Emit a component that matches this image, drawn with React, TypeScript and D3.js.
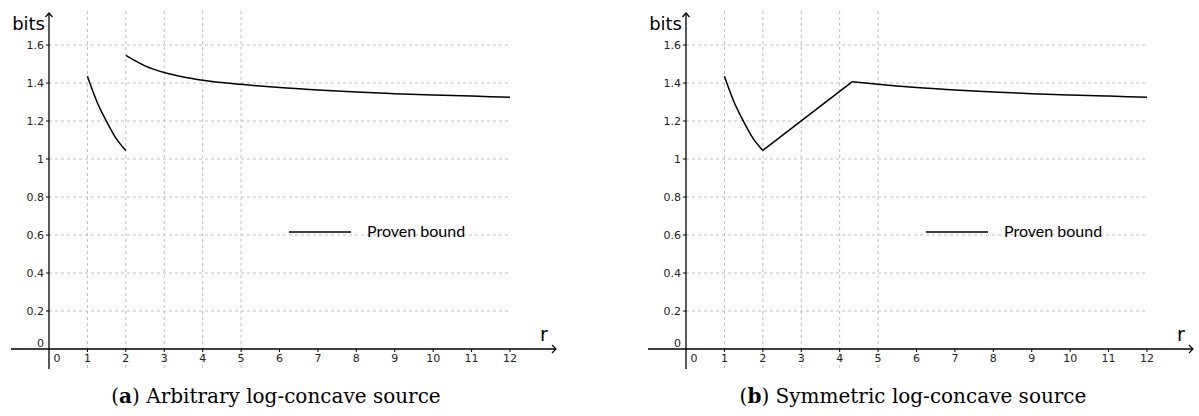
import * as d3 from "d3";

// shared first piece of the bound, r in [1, 2]
const seg1R = [1, 1.25, 1.5, 1.75, 2];
const seg1Bits = [1.435, 1.3, 1.197, 1.107, 1.045];

// (a) arbitrary source: second piece, r in [2, 12]
const tailR = [2, 2.5, 3, 3.5, 4, 5, 6, 7, 8, 9, 10, 11, 12];
const tailBits = [1.545, 1.49, 1.455, 1.432, 1.415, 1.393, 1.376, 1.363, 1.352, 1.344, 1.337, 1.331, 1.325];

// (b) symmetric source: straight ramp, then tail
const rampR = [2, 4.33];
const rampBits = [1.045, 1.407];
const symTailR = [4.33, 5, 6, 7, 8, 9, 10, 11, 12];
const symTailBits = [1.407, 1.393, 1.376, 1.363, 1.352, 1.344, 1.337, 1.331, 1.325];

const xTicks = [0, 1, 2, 3, 4, 5, 6, 7, 8, 9, 10, 11, 12];
const yTicks = [0.2, 0.4, 0.6, 0.8, 1, 1.2, 1.4, 1.6];
const xGrid = [1, 2, 3, 4, 5];

const legendLabel = "Proven bound";
const captions = [
  { tag: "a", text: " Arbitrary log-concave source" },
  { tag: "b", text: " Symmetric log-concave source" },
];

type Seg = { r: number[]; v: number[]; curved: boolean };

const panels: Seg[][] = [
  [
    { r: seg1R, v: seg1Bits, curved: true },
    { r: tailR, v: tailBits, curved: true },
  ],
  [
    { r: seg1R, v: seg1Bits, curved: true },
    { r: rampR, v: rampBits, curved: false },
    { r: symTailR, v: symTailBits, curved: true },
  ],
];

const tickFont = "DejaVu Sans, sans-serif";

function Panel({ ox, segs, caption }: { ox: number; segs: Seg[]; caption: { tag: string; text: string } }) {
  const x = d3.scaleLinear().domain([0, 12]).range([ox, ox + 461]);
  const y = d3.scaleLinear().domain([0, 1.6]).range([349, 45]);
  const x0 = x(0);
  const y0 = y(0);
  const gridTop = 11;
  const axisBottom = 369;

  const line = (curved: boolean) =>
    d3
      .line<[number, number]>()
      .x((d) => x(d[0]))
      .y((d) => y(d[1]))
      .curve(curved ? d3.curveMonotoneX : d3.curveLinear);

  return (
    <g>
      {/* grid */}
      {yTicks.map((t) => (
        <line key={"h" + t} x1={x0} x2={x(12)} y1={y(t)} y2={y(t)} stroke="#bdbdbd" strokeDasharray="3,3" strokeWidth={1} />
      ))}
      {xGrid.map((t) => (
        <line key={"v" + t} x1={x(t)} x2={x(t)} y1={gridTop} y2={axisBottom} stroke="#bdbdbd" strokeDasharray="3,3" strokeWidth={1} />
      ))}

      {/* axes */}
      <line x1={x0 - 38} x2={x(12) + 46} y1={y0} y2={y0} stroke="#000" strokeWidth={1.3} />
      <line x1={x0} x2={x0} y1={13} y2={axisBottom} stroke="#000" strokeWidth={1.3} />
      <path d={`M${x0 - 3.5},17 L${x0},13 L${x0 + 3.5},17`} fill="none" stroke="#000" strokeWidth={1.2} />
      <path d={`M${x(12) + 42},${y0 - 4} L${x(12) + 46},${y0} L${x(12) + 42},${y0 + 4}`} fill="none" stroke="#000" strokeWidth={1.2} />

      {/* y ticks */}
      {yTicks.map((t) => (
        <g key={"yt" + t}>
          <line x1={x0 - 3} x2={x0} y1={y(t)} y2={y(t)} stroke="#000" strokeWidth={1} />
          <text x={x0 - 5} y={y(t) + 4} textAnchor="end" fontFamily={tickFont} fontSize={11} fill="#222">
            {String(+t.toFixed(1))}
          </text>
        </g>
      ))}
      <text x={x0 - 5} y={y0 - 2} textAnchor="end" fontFamily={tickFont} fontSize={11} fill="#222">0</text>

      {/* x ticks */}
      {xTicks.map((t) => (
        <g key={"xt" + t}>
          {t > 0 && <line x1={x(t)} x2={x(t)} y1={y0} y2={y0 + 3} stroke="#000" strokeWidth={1} />}
          <text x={t === 0 ? x0 + 8 : x(t)} y={362} textAnchor="middle" fontFamily={tickFont} fontSize={11} fill="#222">
            {t}
          </text>
        </g>
      ))}

      {/* axis labels */}
      <text x={x0 - 4} y={30} textAnchor="end" fontFamily={tickFont} fontSize={18} fill="#000">bits</text>
      <text x={x(12) + 30} y={341} fontFamily={tickFont} fontSize={19} fill="#000">r</text>

      {/* curves */}
      {segs.map((s, i) => (
        <path
          key={"s" + i}
          d={line(s.curved)(s.r.map((r, j) => [r, s.v[j]] as [number, number])) || ""}
          fill="none"
          stroke="#000"
          strokeWidth={1.5}
        />
      ))}

      {/* legend */}
      <line x1={ox + 240} x2={ox + 302} y1={232} y2={232} stroke="#000" strokeWidth={1.6} />
      <text x={ox + 318} y={237} fontFamily="Lato, sans-serif" fontSize={16} fill="#000">{legendLabel}</text>

      {/* caption */}
      <text x={ox + 227} y={403} textAnchor="middle" fontFamily="DejaVu Serif, serif" fontSize={20} fill="#000">
        (<tspan fontWeight="bold">{caption.tag}</tspan>){caption.text}
      </text>
    </g>
  );
}

export default function App() {
  return (
    <svg
      width={1199}
      height={416}
      style={{ position: "absolute", left: 0, top: 0, background: "#fff" }}
    >
      <Panel ox={49} segs={panels[0]} caption={captions[0]} />
      <Panel ox={686} segs={panels[1]} caption={captions[1]} />
    </svg>
  );
}
